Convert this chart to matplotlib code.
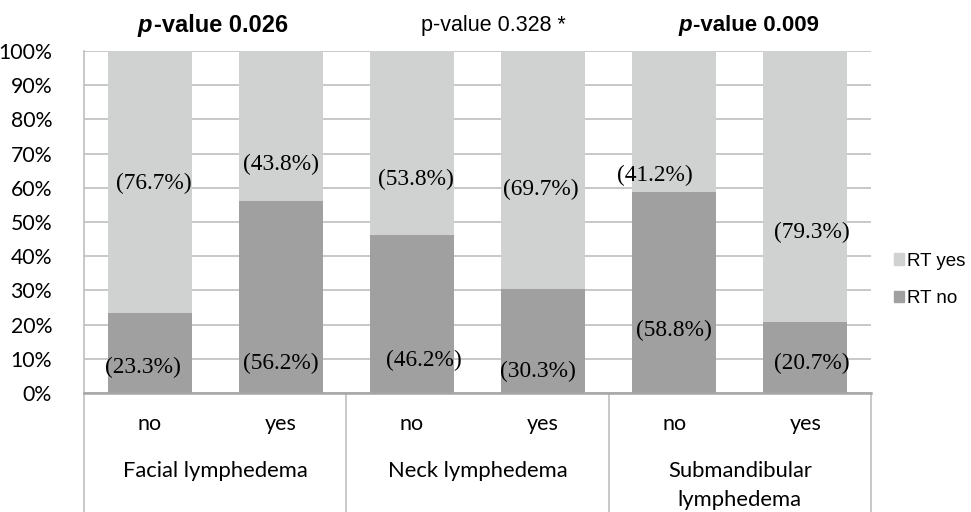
import numpy as np
import matplotlib.pyplot as plt
from matplotlib.transforms import blended_transform_factory
from matplotlib.patches import Patch

# data
groups = ["Facial lymphedema", "Neck lymphedema", "Submandibular\nlymphedema"]
subcats = ["no", "yes", "no", "yes", "no", "yes"]
rt_no = [23.3, 56.2, 46.2, 30.3, 58.8, 20.7]
rt_yes = [76.7, 43.8, 53.8, 69.7, 41.2, 79.3]
pvalues = ["0.026", "0.328", "0.009"]
significant = [True, False, True]

# layout: where the percentage labels sit (in axis %) and x nudges
lab_y_no = [7.6, 8.5, 9.6, 6.4, 18.4, 8.5]
lab_y_yes = [61.4, 66.7, 62.3, 59.4, 63.7, 46.8]
lab_dx_no = [-0.05, 0.0, 0.09, -0.04, 0.0, 0.05]
lab_dx_yes = [0.03, 0.0, 0.03, -0.02, -0.15, 0.05]

c_yes = "#d0d1d1"
c_no = "#a0a0a0"
grid_c = "#bfbfbf"
sans = "Lato"

fig = plt.figure(figsize=(9.71, 5.12), dpi=100)
ax = fig.add_axes([84 / 971, (512 - 393) / 512, 787 / 971, 342 / 512])

x = np.arange(len(subcats))
w = 0.64
ax.bar(x, rt_no, width=w, color=c_no, zorder=2)
ax.bar(x, rt_yes, width=w, bottom=rt_no, color=c_yes, zorder=2)

ax.set_xlim(-0.5, len(subcats) - 0.5)
ax.set_ylim(0, 100)
ax.set_yticks(np.arange(0, 101, 10))
ax.set_yticklabels([f"{v}%" for v in range(0, 101, 10)], fontsize=15.3, family=sans)
ax.tick_params(axis="y", length=0, pad=23)
ax.set_xticks([])
ax.yaxis.grid(True, color=grid_c, linewidth=1.2, zorder=0)
for s in ["top", "right"]:
    ax.spines[s].set_visible(False)
ax.spines["left"].set_color(grid_c)
ax.spines["left"].set_linewidth(1.2)
ax.spines["bottom"].set_color("#a6a6a6")
ax.spines["bottom"].set_linewidth(1.8)

# percentage labels
for i in range(len(subcats)):
    ax.text(x[i] + lab_dx_no[i], lab_y_no[i], f"({rt_no[i]}%)", ha="center", va="center",
            family="Liberation Serif", fontsize=16.8, zorder=3)
    ax.text(x[i] + lab_dx_yes[i], lab_y_yes[i], f"({rt_yes[i]}%)", ha="center", va="center",
            family="Liberation Serif", fontsize=16.8, zorder=3)

# category axis below the plot
tr = blended_transform_factory(ax.transData, ax.transAxes)
for i, lab in enumerate(subcats):
    ax.text(x[i], -0.0906, lab, transform=tr, ha="center", va="center",
            fontsize=15.5, family=sans, clip_on=False)
for g, name in enumerate(groups):
    gx = 2 * g + 0.5
    for k, line in enumerate(name.split("\n")):
        ax.text(gx, -0.228 - k * 29 / 342, line, transform=tr, ha="center", va="center",
                fontsize=15.8, family=sans, clip_on=False)
for b in [-0.5, 1.5, 3.5, 5.5]:
    ax.plot([b, b], [0, -0.36], transform=tr, color=grid_c, linewidth=1.2, clip_on=False)

# p-value headers
for g, (pv, sig) in enumerate(zip(pvalues, significant)):
    gx = 2 * g + 0.5
    if sig:
        size = [17, 0, 16][g]
        shift = [-0.06, 0, 0.06][g]
        pt = ax.text(gx + shift - 0.53, 1.076, "p", transform=tr, ha="left", va="center",
                     fontsize=size, family="Liberation Sans", weight="bold", style="italic",
                     clip_on=False)
        ax.annotate(f"-value {pv}", xy=(1, 0), xycoords=pt, xytext=(1, 0),
                    textcoords="offset points", ha="left", va="bottom", fontsize=size,
                    family="Liberation Sans", weight="bold", annotation_clip=False)
    else:
        ax.text(gx + 0.12, 1.076, f"p-value {pv} *", transform=tr, ha="center", va="center",
                fontsize=15.5, family="Liberation Sans", clip_on=False)

handles = [Patch(color=c_yes, label="RT yes"), Patch(color=c_no, label="RT no")]
fig.legend(handles=handles, loc="center left", bbox_to_anchor=(894 / 971, (512 - 280) / 512),
           frameon=False, handlelength=0.55, handleheight=0.55, handletextpad=0.15,
           labelspacing=1.1, borderpad=0, borderaxespad=0,
           prop={"family": "Liberation Sans", "size": 13.5})

fig.savefig("out.png", dpi=100)
